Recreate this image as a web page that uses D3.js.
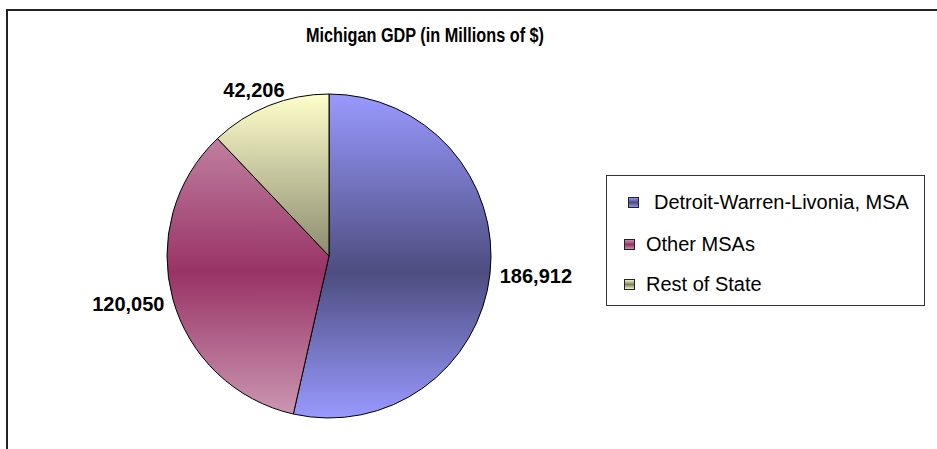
<!DOCTYPE html>
<html>
<head>
<meta charset="utf-8">
<script src="https://cdn.jsdelivr.net/npm/d3@7"></script>
<style>
  body { margin: 0; background: #fff; }
  text { font-family: "Liberation Sans", Arial, sans-serif; }
</style>
</head>
<body>
<svg width="937" height="449"></svg>
<script>
const titleText = 'Michigan GDP (in Millions of $)';

// data
const categories = ['Detroit-Warren-Livonia, MSA', 'Other MSAs', 'Rest of State'];
const values = [186912, 120050, 42206];
const valueLabels = ['186,912', '120,050', '42,206'];

// gradient colours: light edge, dark middle
const lightColors = ['#9999ff', '#cc99b3', '#ffffcc'];
const darkColors = ['#4d4d80', '#993366', '#808066'];

const svg = d3.select('svg');
const width = +svg.attr('width');
const height = +svg.attr('height');

const cx = 329, cy = 256, radius = 162;

// chart area frame (only top and left edge visible)
svg.append('path')
    .attr('d', `M7,${height} L7,10 L${width},10`)
    .attr('fill', 'none')
    .attr('stroke', '#222')
    .attr('stroke-width', 2);

const defs = svg.append('defs');
categories.forEach((c, i) => {
    const grad = defs.append('linearGradient')
        .attr('id', 'grad' + i)
        .attr('gradientUnits', 'userSpaceOnUse')
        .attr('x1', 0).attr('x2', 0)
        .attr('y1', -radius).attr('y2', radius);
    grad.append('stop').attr('offset', '0%').attr('stop-color', lightColors[i]);
    grad.append('stop').attr('offset', '55%').attr('stop-color', darkColors[i]);
    grad.append('stop').attr('offset', '100%').attr('stop-color', lightColors[i]);

    const sq = defs.append('linearGradient')
        .attr('id', 'sq' + i)
        .attr('x1', 0).attr('x2', 0).attr('y1', 0).attr('y2', 1);
    sq.append('stop').attr('offset', '0%').attr('stop-color', lightColors[i]);
    sq.append('stop').attr('offset', '50%').attr('stop-color', darkColors[i]);
    sq.append('stop').attr('offset', '100%').attr('stop-color', lightColors[i]);
});

// title is drawn narrow in the original
svg.append('text')
    .attr('x', 425)
    .attr('y', 42)
    .attr('text-anchor', 'middle')
    .attr('font-size', 20)
    .attr('font-weight', 'bold')
    .attr('textLength', 238)
    .attr('lengthAdjust', 'spacingAndGlyphs')
    .text(titleText);

const data = categories.map((c, i) => ({ name: c, value: values[i], label: valueLabels[i], i }));

const pie = d3.pie().sort(null).value(d => d.value);
const arcs = pie(data);
const arc = d3.arc().innerRadius(0).outerRadius(radius);

const g = svg.append('g').attr('transform', `translate(${cx},${cy})`);

g.selectAll('path.slice')
    .data(arcs)
    .enter().append('path')
    .attr('class', 'slice')
    .attr('d', arc)
    .attr('fill', d => `url(#grad${d.data.i})`)
    .attr('stroke', '#000')
    .attr('stroke-width', 1);

// value labels outside the pie, box corner follows the angle
const labelR = radius + 10;
const labelH = 14;
g.selectAll('text.val')
    .data(arcs)
    .enter().append('text')
    .attr('class', 'val')
    .attr('font-size', 20)
    .attr('font-weight', 'bold')
    .text(d => d.data.label)
    .each(function(d) {
        const a = (d.startAngle + d.endAngle) / 2;
        const s = Math.sin(a), c = Math.cos(a);
        const px = labelR * s, py = -labelR * c;
        const w = this.getComputedTextLength();
        const left = px - w * (1 - s) / 2;
        const top = py - labelH * (1 + c) / 2;
        d3.select(this).attr('x', left).attr('y', top + labelH);
    });

// legend
const legend = svg.append('g');
legend.append('rect')
    .attr('x', 606.5).attr('y', 175.5)
    .attr('width', 318).attr('height', 130)
    .attr('fill', '#fff')
    .attr('stroke', '#333')
    .attr('stroke-width', 1);

const legendSq = [[628, 197], [624, 239], [624, 279]];
const legendTx = [[654, 209], [646, 251], [646, 291]];

const items = legend.selectAll('g.item')
    .data(data)
    .enter().append('g')
    .attr('class', 'item');

items.append('rect')
    .attr('x', d => legendSq[d.i][0] + 0.5)
    .attr('y', d => legendSq[d.i][1] + 0.5)
    .attr('width', 10).attr('height', 10)
    .attr('fill', d => `url(#sq${d.i})`)
    .attr('stroke', '#222')
    .attr('stroke-width', 1);

items.append('text')
    .attr('x', d => legendTx[d.i][0])
    .attr('y', d => legendTx[d.i][1])
    .attr('font-size', 20)
    .text(d => d.name);
</script>
</body>
</html>
